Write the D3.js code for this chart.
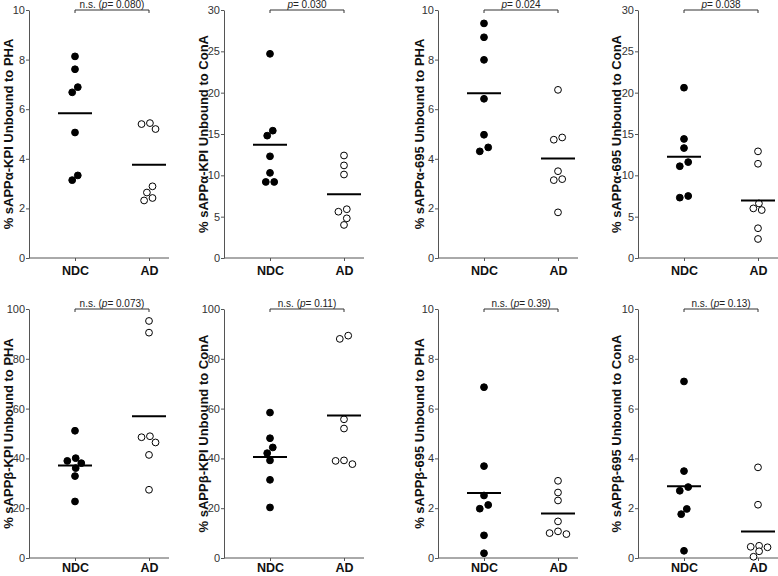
<!DOCTYPE html>
<html><head><meta charset="utf-8">
<script src="https://cdn.jsdelivr.net/npm/d3@7"></script>
<style>body{margin:0;background:#fff;}svg{display:block;font-family:"Liberation Sans",Arial,sans-serif;}</style>
</head><body><svg id="c" width="778" height="576"></svg>
<script>
const categories = ["NDC", "AD"];
const titles = [
  "% sAPPα-KPI Unbound to PHA", "% sAPPα-KPI Unbound to ConA",
  "% sAPPα-695 Unbound to PHA", "% sAPPα-695 Unbound to ConA",
  "% sAPPβ-KPI Unbound to PHA", "% sAPPβ-KPI Unbound to ConA",
  "% sAPPβ-695 Unbound to PHA", "% sAPPβ-695 Unbound to ConA"
];
const yMax = [10, 30, 10, 30, 100, 100, 10, 10];
const yTickStep = [2, 5, 2, 5, 20, 20, 2, 2];
const pPrefix = ["n.s. (", "", "", "", "n.s. (", "n.s. (", "n.s. (", "n.s. ("];
const pValue = ["0.080", "0.030", "0.024", "0.038", "0.073", "0.11", "0.39", "0.13"];
const pSuffix = [")", "", "", "", ")", ")", ")", ")"];
const ndcValues = [
  [8.13, 7.61, 6.89, 6.68, 5.06, 3.33, 3.14],
  [24.7, 15.4, 14.8, 12.3, 10.3, 9.2, 9.2],
  [9.46, 8.9, 7.99, 6.42, 4.97, 4.46, 4.30],
  [20.6, 14.4, 13.3, 11.6, 11.1, 7.5, 7.3],
  [51.1, 40.1, 39.0, 38.1, 36.1, 32.9, 22.7],
  [58.4, 48.1, 44.4, 42.1, 39.2, 31.4, 20.3],
  [6.86, 3.69, 2.51, 2.13, 1.98, 0.91, 0.19],
  [7.09, 3.49, 2.85, 2.70, 1.97, 1.76, 0.29]
];
const adValues = [
  [5.44, 5.40, 5.20, 2.89, 2.64, 2.42, 2.32],
  [12.4, 11.2, 10.1, 5.9, 5.6, 4.8, 4.0],
  [6.78, 4.86, 4.77, 3.50, 3.18, 3.14, 1.84],
  [12.9, 11.4, 6.6, 6.0, 5.8, 3.6, 2.3],
  [95.2, 90.5, 48.9, 48.5, 46.4, 41.4, 27.4],
  [89.3, 88.0, 55.7, 52.0, 39.2, 39.0, 37.7],
  [3.10, 2.63, 2.31, 1.47, 1.07, 1.00, 0.96],
  [3.64, 2.14, 0.49, 0.45, 0.43, 0.27, 0.05]
];

// layout
const axisX = [29, 224, 438, 638];
const titleX = [13, 208, 424, 621];
const rowY = [[258, 10], [558, 309]];
const rowLabelPad = [5, 2.5];
const axisLen = 140;
const catOff = [46, 120];
const R = 3.4;

const svg = d3.select("#c");

function dodge(vals, y) {
  const pts = vals.map(v => ({v, y: y(v), dx: 0}));
  pts.sort((a, b) => a.y - b.y);
  const step = 2.8, minD = 2 * R + 0.3;
  const cands = [0, -step, step, -2 * step, 2 * step, -3 * step, 3 * step];
  const placed = [];
  pts.forEach(p => {
    for (const c of cands) {
      if (placed.every(q => Math.hypot(q.dx - c, q.y - p.y) >= minD)) { p.dx = c; break; }
    }
    placed.push(p);
  });
  let cluster = [];
  const flush = () => {
    if (cluster.length > 1) {
      const m = d3.mean(cluster, d => d.dx);
      cluster.forEach(d => d.dx -= m);
    }
    cluster = [];
  };
  pts.forEach((p, i) => {
    if (i > 0 && p.y - pts[i - 1].y >= minD) flush();
    cluster.push(p);
  });
  flush();
  return pts;
}

for (let i = 0; i < 8; i++) {
  const col = i % 4, row = Math.floor(i / 4);
  const x0 = axisX[col];
  const [yb, yt] = rowY[row];
  const g = svg.append("g");
  const y = d3.scaleLinear().domain([0, yMax[i]]).range([yb, yt]);
  const x = d3.scalePoint().domain(categories).range([x0 + catOff[0], x0 + catOff[1]]);

  const ya = g.append("g").attr("transform", `translate(${x0},0)`)
    .call(d3.axisLeft(y).tickValues(d3.range(0, yMax[i] + 0.001, yTickStep[i])).tickSize(3).tickPadding(1).tickSizeOuter(0));
  ya.select(".domain").attr("stroke", "#555");
  ya.selectAll(".tick line").attr("stroke", "#555");
  ya.selectAll(".tick text").attr("fill", "#333").style("font-size", "11px").style("font-family", "Liberation Sans, Arial, sans-serif");

  const xa = g.append("g").attr("transform", `translate(0,${yb})`)
    .call(d3.axisBottom(x).tickSize(3).tickPadding(rowLabelPad[row]).tickSizeOuter(0));
  xa.select(".domain").remove();
  xa.selectAll(".tick line").attr("stroke", "#555");
  xa.selectAll(".tick text").attr("fill", "#111").style("font-size", "12.5px").style("font-weight", "bold")
    .style("font-family", "Liberation Sans, Arial, sans-serif");
  g.append("line").attr("x1", x0).attr("x2", x0 + axisLen).attr("y1", yb).attr("y2", yb).attr("stroke", "#555");

  g.append("text").attr("transform", `translate(${titleX[col]},${(yb + yt) / 2}) rotate(-90)`)
    .attr("text-anchor", "middle").attr("fill", "#111")
    .style("font-size", "13px").style("font-weight", "bold").text(titles[i]);

  const bx1 = x("NDC"), bx2 = x("AD");
  g.append("path").attr("d", `M${bx1},${yt + 3}V${yt}H${bx2}V${yt + 3}`)
    .attr("fill", "none").attr("stroke", "#333").attr("stroke-width", 1);
  const t = g.append("text").attr("x", (bx1 + bx2) / 2).attr("y", yt - 2)
    .attr("text-anchor", "middle").attr("fill", "#222").style("font-size", "10px");
  t.append("tspan").text(pPrefix[i]);
  t.append("tspan").style("font-style", "italic").text("p");
  t.append("tspan").text("= " + pValue[i] + pSuffix[i]);

  [ndcValues[i], adValues[i]].forEach((vals, k) => {
    const cx = x(categories[k]);
    const pts = dodge(vals, y);
    g.selectAll(null).data(pts).join("circle")
      .attr("cx", d => cx + d.dx).attr("cy", d => d.y).attr("r", R)
      .attr("fill", k === 0 ? "#000" : "#fff").attr("stroke", "#000").attr("stroke-width", 1);
    const m = d3.mean(vals);
    g.append("line").attr("x1", cx - 17).attr("x2", cx + 17)
      .attr("y1", y(m)).attr("y2", y(m)).attr("stroke", "#000").attr("stroke-width", 2);
  });
}
</script></body></html>
